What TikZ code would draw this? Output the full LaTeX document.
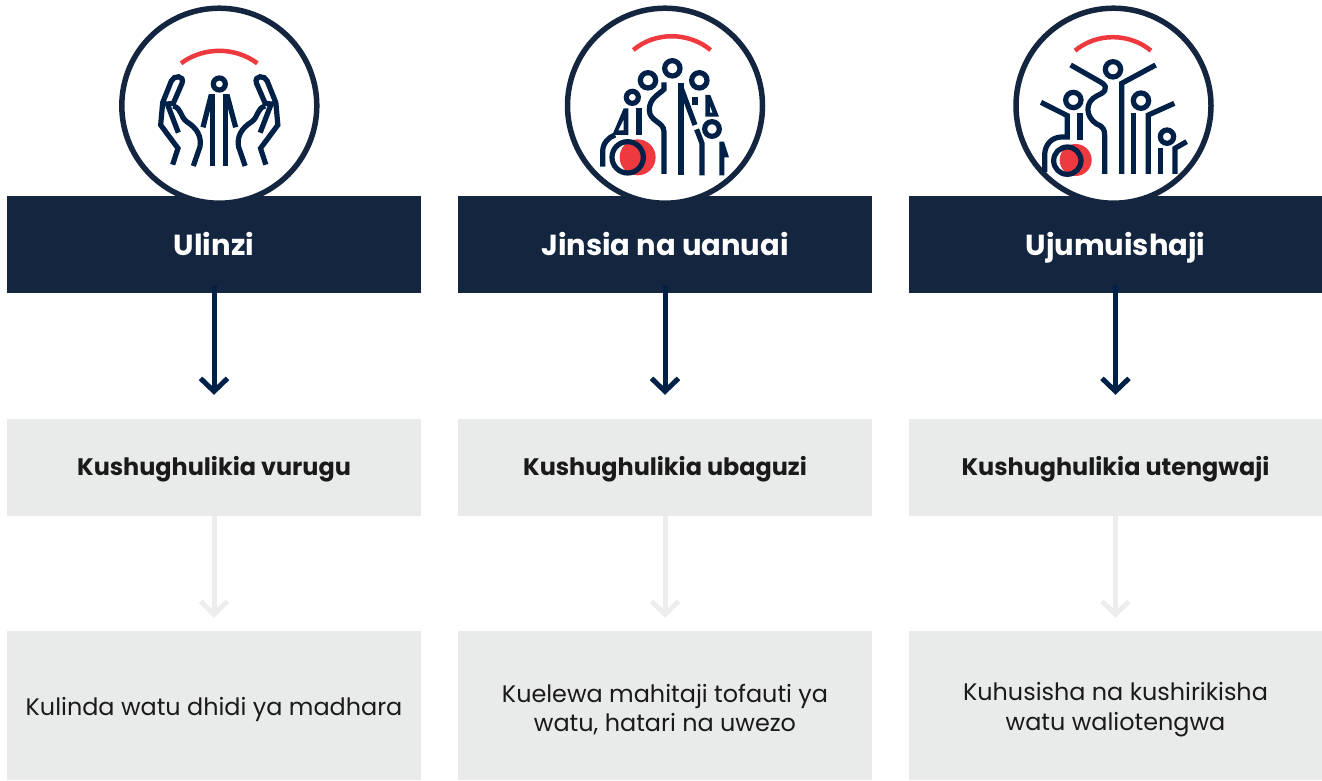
\documentclass[tikz,border=0pt]{standalone}
\usepackage{fontspec}
\setmainfont{Poppins}
\usetikzlibrary{arrows.meta}
\definecolor{navy}{HTML}{14253F}
\definecolor{ink}{HTML}{002147}
\definecolor{redc}{HTML}{EE3A3F}
\definecolor{pale}{HTML}{E9EAEA}
\definecolor{palearrow}{HTML}{EDEDED}
\definecolor{txt}{HTML}{1A1A1A}
\tikzset{
  x=1pt,y=-1pt,
  headbox/.style={fill=navy,text=white,minimum width=414pt,minimum height=97pt,inner sep=0pt,text height=25pt,text depth=3pt,font=\fontsize{29}{32}\selectfont\bfseries},
  midbox/.style={fill=pale,text=txt,minimum width=414pt,minimum height=97pt,inner sep=0pt,text height=19pt,text depth=4pt,font=\fontsize{23.9}{28}\selectfont\bfseries},
  lowbox/.style={fill=pale,text=txt,minimum width=414pt,minimum height=149pt,inner sep=0pt,align=center,font=\fontsize{23.9}{29.5}\selectfont},
  lowtext/.style={text=txt,inner sep=0pt,align=center,font=\fontsize{23.9}{29.5}\selectfont},
  darrow/.style={ink,line width=5pt,-{Straight Barb[length=13pt,width=27pt,line width=5pt]},shorten <=-8pt,shorten >=24pt},
  larrow/.style={palearrow,line width=5pt,-{Straight Barb[length=13pt,width=27pt,line width=5pt]},shorten >=13pt},
  ring/.style={draw=navy,fill=white,line width=5.5pt},
  ic/.style={draw=ink,line width=5.2pt,line cap=butt,line join=miter},
  redarc/.style={draw=redc,line width=4.5pt},
  zoomed/.style={x=0.3333pt,y=-0.3333pt}
}
\begin{document}
\begin{tikzpicture}
\useasboundingbox (0,0) rectangle (1322,780);
% boxes
\node[headbox] (h1) at (214,244.5) {Ulinzi};
\node[headbox] (h2) at (665,244.5) {Jinsia na uanuai};
\node[headbox] (h3) at (1115.5,244.5) {Ujumuishaji};
\node[midbox] (m1) at (214,467.5) {Kushughulikia vurugu};
\node[midbox] (m2) at (665,467.5) {Kushughulikia ubaguzi};
\node[midbox] (m3) at (1115.5,467.5) {Kushughulikia utengwaji};
\node[lowbox] (l1) at (214,705.5) {};
\node[lowbox] (l2) at (665,705.5) {};
\node[lowbox] (l3) at (1115.5,705.5) {};
\node[lowtext] (t1) at (214,709.5) {Kulinda watu dhidi ya madhara};
\node[lowtext] (t2) at (665,709.5) {Kuelewa mahitaji tofauti ya\\watu, hatari na uwezo};
\node[lowtext] (t3) at (1115.5,709.5) {Kuhusisha na kushirikisha\\watu waliotengwa};
% arrows
\foreach \a/\b in {h1/m1,h2/m2,h3/m3} \draw[darrow] (\a.south) -- (\b.north);
\foreach \a/\b in {m1/l1,m2/l2,m3/l3} \draw[larrow] (\a.south) -- (\b.north);
% icon 1
\node[ring,circle,minimum size=195pt,inner sep=0pt] (c1) at (219.3,105.7) {};
\begin{scope}[shift={(110,0)},zoomed]
 \draw[redarc] (213,190) .. controls (280,140) and (376,140) .. (442,190);
 \draw[ic] (328,252) circle (18);
 \draw[ic] (308,283) -- (308,498);
 \draw[ic] (347,283) -- (347,498);
 \draw[ic] (304,284) -- (279,382);
 \draw[ic] (351,284) -- (377,382);
 \foreach \m/\o in {1/0,-1/655.6}{
 \begin{scope}[shift={(\o,0)},xscale=\m]
  \draw[ic] (188,494) -- (204,445) -- (152,375) -- (158,308) -- (184,243) .. controls (190,225) and (225,225) .. (216,250) -- (190,310) -- (172,312) -- (205,398);
  \draw[ic] (190,318) .. controls (215,325) and (210,350) .. (230,365) .. controls (262,385) and (275,410) .. (270,440) -- (250,498);
 \end{scope}}
\end{scope}
% icon 2
\node[ring,circle,minimum size=195pt,inner sep=0pt] (c2) at (665,105.7) {};
\begin{scope}[shift={(555,0)},zoomed]
 \draw[redarc] (235,150) .. controls (300,95) and (400,95) .. (467,150);
 \fill[redc] (248,472) circle (54);
 \draw[ic] (218,472) circle (47);
 \draw[ic] (352,205) circle (23);
 \draw[ic] (279,241) circle (23);
 \draw[ic] (433,241) circle (23);
 \draw[ic] (232,292) circle (18);
 \draw[ic] (471,387) circle (22);
 \draw[ic] (143,500) -- (143,455) .. controls (143,430) and (160,412) .. (180,405);
 \fill[ink,even odd rule] (206,325) -- (220,325) -- (220,405) -- (172,405) -- cycle (206,358) -- (206,391) -- (190,391) -- cycle;
 \draw[ic] (252,325) -- (252,405);
 \draw[ic] (327,247) -- (327,268) .. controls (310,285) and (283,295) .. (283,330) .. controls (283,365) and (327,365) .. (327,395) -- (327,522);
 \draw[ic] (378,250) -- (378,526);
 \draw[ic] (378,262) -- (420,375);
 \draw[ic] (420,290) -- (420,316);
 \fill[ink,even odd rule] (451,285) -- (466,285) -- (492,350) -- (451,350) -- cycle (465,318) -- (465,338) -- (473,338) -- cycle;
 \draw[ic] (425,388) -- (441,430) -- (441,526);
 \fill[ink] (493,526) -- (493,425) -- (507,425) -- (522,472) -- (508,472) -- (508,526) -- cycle;
\end{scope}
% icon 3
\node[ring,circle,minimum size=195pt,inner sep=0pt] (c3) at (1113.5,105.7) {};
\begin{scope}[shift={(1005,0)},zoomed]
 \draw[redarc] (210,152) .. controls (275,98) and (372,98) .. (438,152);
 \fill[redc] (212,480) circle (48);
 \draw[ic] (187,482) circle (41);
 \draw[ic] (324,208) circle (23);
 \draw[ic] (205,300) circle (23);
 \draw[ic] (408,302) circle (23);
 \draw[ic] (486,410) circle (20);
 \draw[ic] (197,195) -- (290,248) .. controls (315,265) and (295,280) .. (275,288) .. controls (240,305) and (240,350) .. (275,372) .. controls (295,380) and (299,390) .. (299,405) -- (299,522);
 \draw[ic] (452,195) -- (350,250) -- (350,522);
 \draw[ic] (108,307) -- (187,347) -- (187,411) -- (170,411) .. controls (140,411) and (119,435) .. (119,465) -- (119,516);
 \draw[ic] (225,340) -- (225,420);
 \draw[ic] (385,340) -- (385,522);
 \draw[ic] (430,522) -- (430,345) -- (508,310);
 \draw[ic] (466,445) -- (466,522);
 \draw[ic] (510,522) -- (510,445) -- (545,425);
\end{scope}
\end{tikzpicture}
\end{document}
